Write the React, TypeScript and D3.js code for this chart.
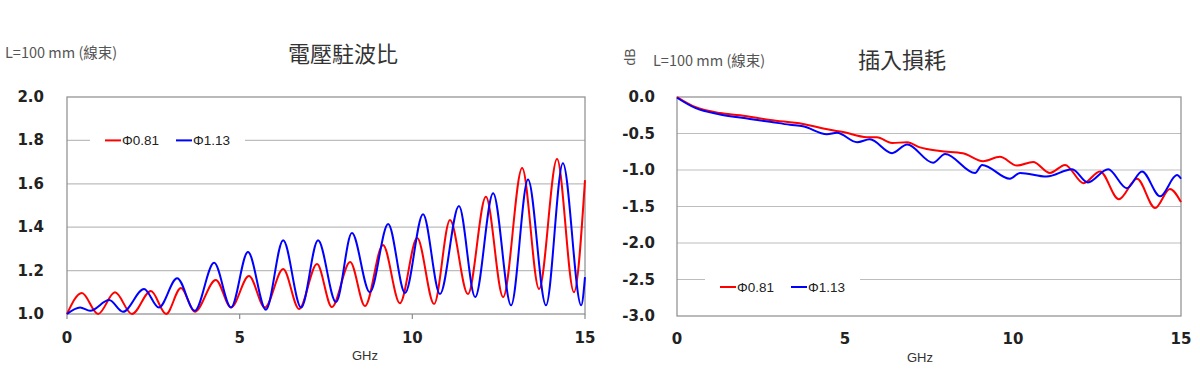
import React from 'react';
import * as d3 from 'd3';

// VSWR chart (left)
const vswrRedF = [0, 0.43, 0.9, 1.39, 1.88, 2.43, 2.87, 3.3, 3.7, 4.31, 4.75, 5.27, 5.73, 6.26, 6.72, 7.24, 7.67, 8.2, 8.63, 9.15, 9.64, 10.14, 10.63, 11.09, 11.61, 12.13, 12.63, 13.18, 13.67, 14.19, 14.68, 15];
const vswrRed = [1.0, 1.097, 1.0, 1.1, 1.0, 1.106, 1.0, 1.12, 1.01, 1.157, 1.03, 1.175, 1.03, 1.207, 1.023, 1.23, 1.032, 1.24, 1.037, 1.318, 1.05, 1.35, 1.046, 1.433, 1.092, 1.54, 1.078, 1.673, 1.115, 1.714, 1.1, 1.617];
const vswrBlueF = [0, 0.38, 0.67, 1.22, 1.62, 2.23, 2.66, 3.19, 3.7, 4.26, 4.75, 5.24, 5.76, 6.26, 6.78, 7.27, 7.79, 8.25, 8.77, 9.3, 9.79, 10.31, 10.8, 11.35, 11.82, 12.34, 12.86, 13.35, 13.87, 14.36, 14.89, 15];
const vswrBlue = [1.0, 1.03, 1.015, 1.064, 1.01, 1.115, 1.03, 1.165, 1.015, 1.236, 1.03, 1.286, 1.02, 1.34, 1.03, 1.34, 1.055, 1.373, 1.1, 1.415, 1.097, 1.46, 1.092, 1.498, 1.078, 1.557, 1.04, 1.62, 1.04, 1.695, 1.04, 1.17];

// insertion loss chart (right)
const lossRedF = [0, 0.54, 1.28, 1.88, 2.77, 3.75, 4.55, 4.94, 5.65, 5.95, 6.4, 6.85, 7.23, 7.83, 8.51, 9.11, 9.61, 10.12, 10.6, 11.1, 11.55, 12.1, 12.59, 13.15, 13.69, 14.23, 14.67, 15];
const lossRed = [0, -0.137, -0.22, -0.25, -0.315, -0.37, -0.45, -0.48, -0.55, -0.55, -0.63, -0.62, -0.69, -0.74, -0.77, -0.88, -0.82, -0.94, -0.89, -1.04, -0.93, -1.18, -1.02, -1.4, -1.12, -1.52, -1.26, -1.44];
const lossBlueF = [0, 0.54, 1.28, 2.17, 2.77, 3.36, 3.75, 4.46, 4.76, 5.36, 5.74, 6.4, 6.85, 7.62, 7.98, 8.87, 9.08, 9.91, 10.21, 11.0, 11.76, 12.23, 12.83, 13.39, 13.84, 14.38, 14.88, 15];
const lossBlue = [-0.01, -0.15, -0.24, -0.3, -0.34, -0.38, -0.4, -0.51, -0.49, -0.62, -0.58, -0.77, -0.65, -0.9, -0.78, -1.04, -0.93, -1.12, -1.04, -1.09, -0.99, -1.17, -0.99, -1.25, -1.02, -1.36, -1.07, -1.12];

const xTicks = [0, 5, 10, 15];
const vswrTicks = [1.0, 1.2, 1.4, 1.6, 1.8, 2.0];
const lossTicks = [0, -0.5, -1.0, -1.5, -2.0, -2.5, -3.0];
const seriesNames = ['Φ0.81', 'Φ1.13'];
const RED = '#ff0000';
const BLUE = '#0000ff';

const zip = (f: number[], v: number[]) => f.map((d, i) => [d, v[i]] as [number, number]);

const App = () => {
  // left
  const xL = d3.scaleLinear().domain([0, 15]).range([67, 585]);
  const yL = d3.scaleLinear().domain([1, 2]).range([314, 97]);
  // right
  const xR = d3.scaleLinear().domain([0, 15]).range([677, 1181]);
  const yR = d3.scaleLinear().domain([-3, 0]).range([316, 97]);

  const lineL = d3.line<[number, number]>().x((d) => xL(d[0])).y((d) => yL(d[1])).curve(d3.curveMonotoneX);
  const lineR = d3.line<[number, number]>().x((d) => xR(d[0])).y((d) => yR(d[1])).curve(d3.curveMonotoneX);

  const sans = 'Liberation Sans, Arial, sans-serif';
  const bold = 'DejaVu Sans, Verdana, sans-serif';
  const cjk = 'Noto Sans CJK TC, Noto Sans, sans-serif';

  const legend = (x0: number, y0: number) => (
    <g>
      <rect x={x0} y={y0 - 12} width={155} height={24} fill="#fff" />
      <line x1={x0 + 15} x2={x0 + 31} y1={y0} y2={y0} stroke={RED} strokeWidth={2} />
      <text x={x0 + 32} y={y0 + 5} fontSize={13.5} fontFamily={sans} fill="#222">{seriesNames[0]}</text>
      <line x1={x0 + 86} x2={x0 + 102} y1={y0} y2={y0} stroke={BLUE} strokeWidth={2} />
      <text x={x0 + 103} y={y0 + 5} fontSize={13.5} fontFamily={sans} fill="#222">{seriesNames[1]}</text>
    </g>
  );

  return (
    <svg width={1200} height={392} style={{ position: 'absolute', left: 0, top: 0, background: '#fff' }}>
      {/* ---------- left chart ---------- */}
      <text x={5} y={58} fontSize={14.5} fontFamily={cjk} fill="#555">L=100 mm (線束)</text>
      <text x={343} y={62} fontSize={22} fontFamily={cjk} fill="#333" textAnchor="middle">電壓駐波比</text>
      {vswrTicks.map((t) => (
        <g key={t}>
          {t > 1 && t < 2 && <line x1={xL(0)} x2={xL(15)} y1={yL(t)} y2={yL(t)} stroke="#bdbdbd" strokeWidth={1.2} />}
          <text x={44} y={yL(t) + 5} fontSize={15} fontWeight="bold" fontFamily={bold} fill="#222" textAnchor="end">{t.toFixed(1)}</text>
        </g>
      ))}
      <rect x={xL(0)} y={yL(2)} width={xL(15) - xL(0)} height={yL(1) - yL(2)} fill="none" stroke="#8c8c8c" strokeWidth={1.2} />
      {xTicks.map((t) => (
        <g key={t}>
          <line x1={xL(t)} x2={xL(t)} y1={yL(1)} y2={yL(1) + 5} stroke="#8c8c8c" strokeWidth={1.2} />
          <text x={xL(t)} y={343} fontSize={15} fontWeight="bold" fontFamily={bold} fill="#222" textAnchor="middle">{t}</text>
        </g>
      ))}
      <text x={365} y={360} fontSize={13} fontFamily={sans} fill="#333" textAnchor="middle">GHz</text>
      {legend(90, yL(1.8))}
      <path d={lineL(zip(vswrRedF, vswrRed)) || ''} fill="none" stroke={RED} strokeWidth={2} />
      <path d={lineL(zip(vswrBlueF, vswrBlue)) || ''} fill="none" stroke={BLUE} strokeWidth={2} />

      {/* ---------- right chart ---------- */}
      <text transform="translate(635,57) rotate(-90)" fontSize={14} fontFamily={sans} fill="#555" textAnchor="middle">dB</text>
      <text x={653} y={66} fontSize={14.5} fontFamily={cjk} fill="#555">L=100 mm (線束)</text>
      <text x={902} y={68} fontSize={22} fontFamily={cjk} fill="#333" textAnchor="middle">插入損耗</text>
      {lossTicks.map((t) => (
        <g key={t}>
          {t < 0 && t > -3 && <line x1={xR(0)} x2={xR(15)} y1={yR(t)} y2={yR(t)} stroke="#bdbdbd" strokeWidth={1.2} />}
          <text x={655} y={yR(t) + 5} fontSize={15} fontWeight="bold" fontFamily={bold} fill="#222" textAnchor="end">{t.toFixed(1)}</text>
        </g>
      ))}
      <rect x={xR(0)} y={yR(0)} width={xR(15) - xR(0)} height={yR(-3) - yR(0)} fill="none" stroke="#8c8c8c" strokeWidth={1.2} />
      {xTicks.map((t) => (
        <text key={t} x={xR(t)} y={344} fontSize={15} fontWeight="bold" fontFamily={bold} fill="#222" textAnchor="middle">{t}</text>
      ))}
      <text x={920} y={362} fontSize={13} fontFamily={sans} fill="#333" textAnchor="middle">GHz</text>
      {legend(705, 287)}
      <path d={lineR(zip(lossRedF, lossRed)) || ''} fill="none" stroke={RED} strokeWidth={2} />
      <path d={lineR(zip(lossBlueF, lossBlue)) || ''} fill="none" stroke={BLUE} strokeWidth={2} />
    </svg>
  );
};

export default App;
